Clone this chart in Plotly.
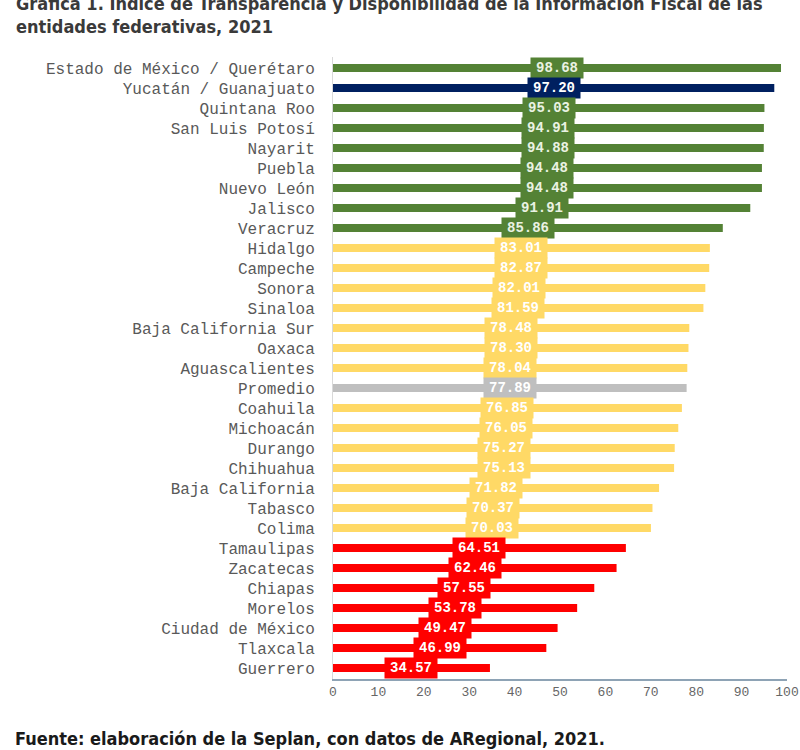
import plotly.graph_objects as go

categories = [
    "Estado de México / Querétaro", "Yucatán / Guanajuato", "Quintana Roo",
    "San Luis Potosí", "Nayarit", "Puebla", "Nuevo León", "Jalisco", "Veracruz",
    "Hidalgo", "Campeche", "Sonora", "Sinaloa", "Baja California Sur", "Oaxaca",
    "Aguascalientes", "Promedio", "Coahuila", "Michoacán", "Durango", "Chihuahua",
    "Baja California", "Tabasco", "Colima", "Tamaulipas", "Zacatecas", "Chiapas",
    "Morelos", "Ciudad de México", "Tlaxcala", "Guerrero",
]
values = [
    98.68, 97.20, 95.03, 94.91, 94.88, 94.48, 94.48, 91.91, 85.86,
    83.01, 82.87, 82.01, 81.59, 78.48, 78.30, 78.04, 77.89, 76.85,
    76.05, 75.27, 75.13, 71.82, 70.37, 70.03, 64.51, 62.46, 57.55,
    53.78, 49.47, 46.99, 34.57,
]
groups = (["alto"] + ["destacado"] + ["alto"] * 7 + ["medio"] * 7 + ["promedio"]
          + ["medio"] * 7 + ["bajo"] * 7)
x_ticks = [0, 10, 20, 30, 40, 50, 60, 70, 80, 90, 100]

palette = {"alto": "#548235", "destacado": "#002060", "medio": "#FFD966",
           "promedio": "#BFBFBF", "bajo": "#FF0000"}
label_color = {"alto": "#EAF2E3", "destacado": "#FFFFFF", "medio": "#FFFFFF",
               "promedio": "#FFFFFF", "bajo": "#FFFFFF"}
colors = [palette[g] for g in groups]

fig = go.Figure(go.Bar(
    x=values, y=categories, orientation="h",
    marker=dict(color=colors, line=dict(width=0)),
    width=0.4, hoverinfo="x+y",
))

annotations = []
for cat, v, g in zip(categories, values, groups):
    annotations.append(dict(
        x=v / 2, y=cat, xref="x", yref="y", text=f"{v:.2f}", showarrow=False,
        font=dict(family="Liberation Mono, Courier New, monospace", size=14,
                  color=label_color[g], weight="bold"),
        bgcolor=palette[g], width=48, height=16, borderpad=2,
    ))

annotations.append(dict(
    x=0, xref="paper", xanchor="left", xshift=-319,
    y=1.067, yref="paper", yanchor="middle",
    text="<b>Gráfica 1. Índice de Transparencia y Disponibilidad de la Información Fiscal de las<br>entidades federativas, 2021</b>",
    align="left", showarrow=False,
    font=dict(family="Liberation Sans Narrow, DejaVu Sans Condensed, Arial Narrow, sans-serif",
              size=18, color="#3A3A3A"),
))
annotations.append(dict(
    x=0, xref="paper", xanchor="left", xshift=-320,
    y=-0.096, yref="paper", yanchor="middle",
    text="<b>Fuente: elaboración de la Seplan, con datos de ARegional, 2021.</b>",
    align="left", showarrow=False,
    font=dict(family="Liberation Sans Narrow, DejaVu Sans Condensed, Arial Narrow, sans-serif",
              size=18, color="#1A1A1A"),
))

fig.update_layout(
    width=800, height=750,
    margin=dict(l=333, r=13, t=57, b=71, autoexpand=False),
    plot_bgcolor="white", paper_bgcolor="white",
    showlegend=False, bargap=0.6,
    annotations=annotations,
    xaxis=dict(range=[0, 100], tickvals=x_ticks, showgrid=False, zeroline=False,
               showline=True, linecolor="#8EA3B5", linewidth=1.5, automargin=False,
               ticks="", tickfont=dict(family="Liberation Mono, Courier New, monospace",
                                       size=13, color="#666666"),
               fixedrange=True),
    yaxis=dict(autorange="reversed", showgrid=False, zeroline=False,
               showline=True, linecolor="#D9D9D9", linewidth=1, automargin=False,
               ticks="", ticklabelstandoff=14,
               tickfont=dict(family="Liberation Mono, Courier New, monospace",
                             size=16, color="#595959"),
               fixedrange=True),
)

fig.write_html("out.html", config={"displayModeBar": False},
               post_script="document.body.style.margin='0px';")
